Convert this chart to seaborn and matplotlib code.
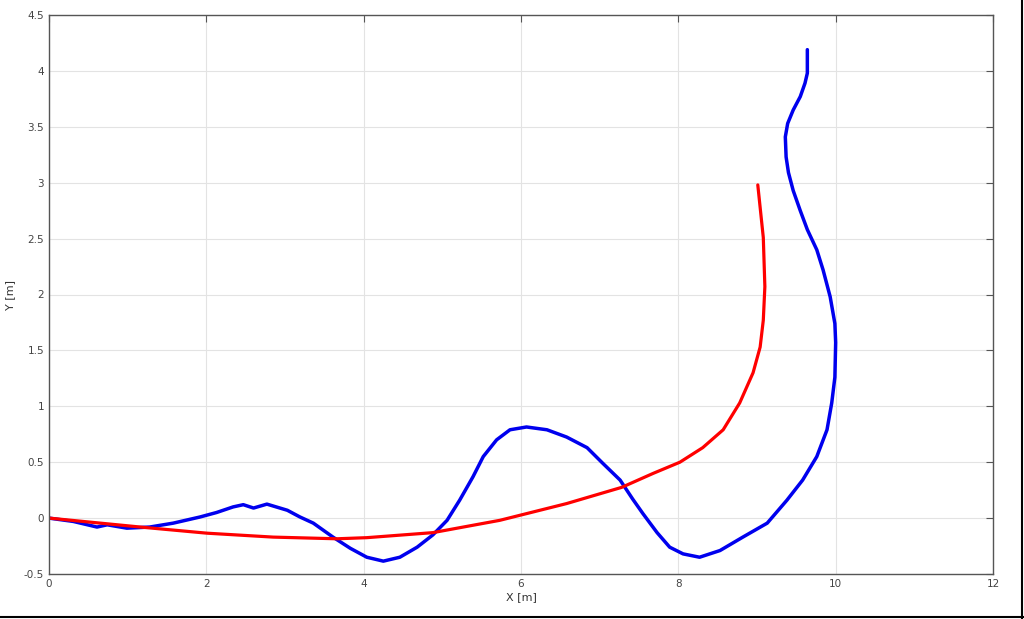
import matplotlib
matplotlib.use("Agg")
import matplotlib.pyplot as plt
import seaborn as sns
import pandas as pd
from matplotlib.lines import Line2D

meas_x = [0.0, 0.31, 0.61, 0.74, 0.99, 1.28, 1.58, 1.92, 2.13, 2.34, 2.47, 2.60, 2.77, 3.03, 3.19, 3.36,
          3.61, 3.83, 4.04, 4.25, 4.46, 4.68, 4.88, 5.06, 5.22, 5.39, 5.52, 5.69, 5.86, 6.07, 6.33,
          6.58, 6.84, 7.04, 7.26, 7.42, 7.55, 7.73, 7.89, 8.06, 8.27, 8.53, 8.82, 9.13, 9.38, 9.58,
          9.76, 9.89, 9.95, 9.99, 10.0, 9.99, 9.93, 9.84, 9.76, 9.64, 9.55, 9.46, 9.40, 9.37, 9.36,
          9.36, 9.39, 9.46, 9.55, 9.61, 9.64, 9.64, 9.64]
meas_y = [0.0, -0.03, -0.08, -0.06, -0.09, -0.08, -0.045, 0.01, 0.05, 0.10, 0.12, 0.09, 0.125, 0.07, 0.01, -0.045,
          -0.17, -0.27, -0.35, -0.385, -0.35, -0.26, -0.15, -0.02, 0.16, 0.37, 0.55, 0.70, 0.79, 0.815, 0.79,
          0.725, 0.63, 0.49, 0.34, 0.17, 0.04, -0.13, -0.26, -0.32, -0.35, -0.29, -0.17, -0.045, 0.16, 0.34,
          0.55, 0.79, 1.03, 1.26, 1.57, 1.74, 1.98, 2.22, 2.40, 2.58, 2.75, 2.93, 3.09, 3.23, 3.41,
          3.41, 3.53, 3.65, 3.77, 3.89, 3.98, 4.07, 4.19]

# Reference trajectory (red)
ref_x = [0.0, 1.16, 2.01, 2.85, 3.66, 4.04, 4.88, 5.73, 6.58, 7.28, 7.68, 8.02, 8.31, 8.57, 8.78,
         8.95, 9.04, 9.08, 9.10, 9.08, 9.01]
ref_y = [0.0, -0.08, -0.135, -0.17, -0.185, -0.175, -0.13, -0.02, 0.13, 0.275, 0.40, 0.50, 0.63, 0.79, 1.03,
         1.30, 1.53, 1.77, 2.07, 2.51, 2.98]

x_ticks = [0, 2, 4, 6, 8, 10, 12]
y_ticks = [-0.5, 0, 0.5, 1, 1.5, 2, 2.5, 3, 3.5, 4, 4.5]
y_tick_labels = ["-0.5", "0", "0.5", "1", "1.5", "2", "2.5", "3", "3.5", "4", "4.5"]

sns.set_style("white")
plt.rcParams['font.family'] = ['DejaVu Sans']

fig = plt.figure(figsize=(10.24, 6.19), dpi=100)
ax = fig.add_axes([49/1024, 45/619, 944/1024, 559/619])

df_meas = pd.DataFrame({"x": meas_x, "y": meas_y})
df_ref = pd.DataFrame({"x": ref_x, "y": ref_y})
sns.lineplot(data=df_meas, x="x", y="y", sort=False, estimator=None, color="#0000ee", linewidth=2.5, ax=ax)
sns.lineplot(data=df_ref, x="x", y="y", sort=False, estimator=None, color="#ff0000", linewidth=2.3, ax=ax)

ax.set_xlim(0, 12)
ax.set_ylim(-0.5, 4.5)
ax.set_xticks(x_ticks)
ax.set_xticklabels([str(t) for t in x_ticks])
ax.set_yticks(y_ticks)
ax.set_yticklabels(y_tick_labels)
ax.grid(True, color="#e3e3e3", linewidth=0.8)
ax.set_axisbelow(True)
ax.tick_params(direction="in", length=5, width=0.8, colors="#555555", labelsize=7.5,
               top=True, right=True, labelcolor="#444444")
ax.set_xlabel("X [m]", fontsize=8, color="#333333", labelpad=2)
ax.set_ylabel("Y [m]", fontsize=8, color="#333333", labelpad=6)
for s in ax.spines.values():
    s.set_color("#555555")
    s.set_linewidth(1.0)
    s.set_visible(True)

# outer frame lines at bottom and right like the screenshot
fig.add_artist(Line2D([0, 1], [2/619, 2/619], transform=fig.transFigure, color="black", linewidth=1.5))
fig.add_artist(Line2D([1022/1024, 1022/1024], [0, 1], transform=fig.transFigure, color="black", linewidth=1.5))

fig.savefig("out.png", dpi=100, facecolor="white")
